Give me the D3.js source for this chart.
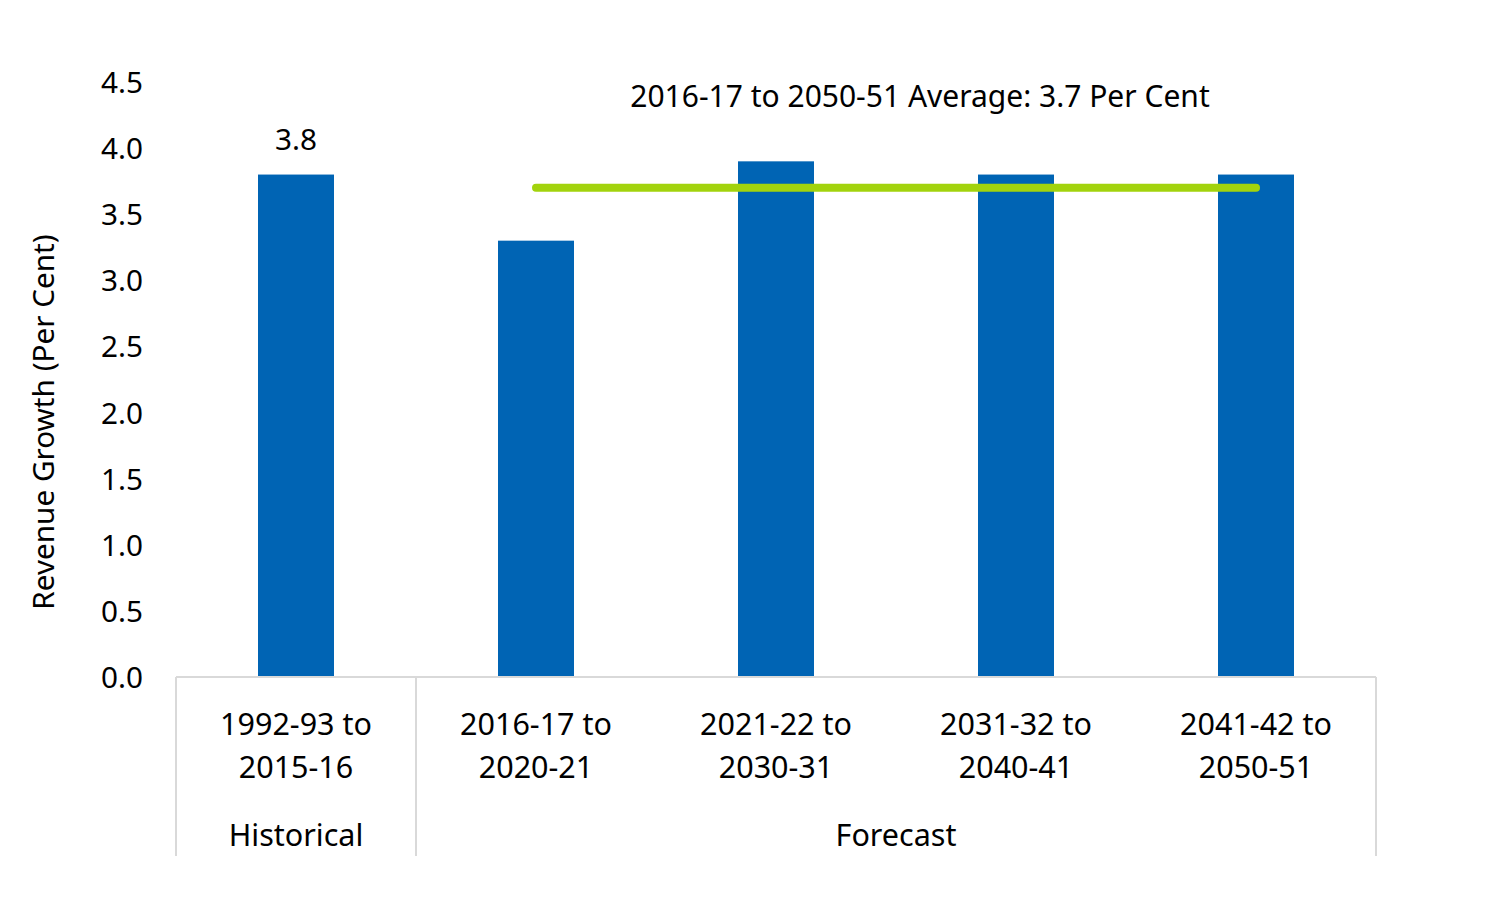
<!DOCTYPE html>
<html>
<head>
<meta charset="utf-8">
<script src="https://cdn.jsdelivr.net/npm/d3@7"></script>
<style>
  body { margin: 0; background: #fff; }
  svg { font-family: "Noto Sans", "Open Sans", sans-serif; }
</style>
</head>
<body>
<script>
var categories = [["1992-93 to", "2015-16"], ["2016-17 to", "2020-21"], ["2021-22 to", "2030-31"], ["2031-32 to", "2040-41"], ["2041-42 to", "2050-51"]];
var values = [3.8, 3.3, 3.9, 3.8, 3.8];
var groups = [{name: "Historical", from: 0, to: 0}, {name: "Forecast", from: 1, to: 4}];
var average = 3.7;
var yTicks = [0, 0.5, 1.0, 1.5, 2.0, 2.5, 3.0, 3.5, 4.0, 4.5];

var W = 1500, H = 921;
var svg = d3.select("body").append("svg").attr("width", W).attr("height", H);

var x = d3.scaleBand().domain(d3.range(categories.length)).range([176, 1376]).paddingInner(0).paddingOuter(0);
var y = d3.scaleLinear().domain([0, 4.5]).range([677, 82]);
var barW = 76;

// y tick labels
svg.selectAll(".ytick").data(yTicks).enter().append("text")
  .attr("x", 143).attr("y", function(d) { return y(d) + 11; })
  .attr("text-anchor", "end").attr("font-size", 29.7).attr("fill", "#000")
  .text(function(d) { return d.toFixed(1); });

svg.append("text")
  .attr("transform", "translate(54,422) rotate(-90)")
  .attr("text-anchor", "middle").attr("font-size", 29.7).text("Revenue Growth (Per Cent)");

// bars
svg.selectAll(".bar").data(values).enter().append("rect")
  .attr("x", function(d, i) { return x(i) + x.bandwidth() / 2 - barW / 2; })
  .attr("y", function(d) { return y(d); })
  .attr("width", barW)
  .attr("height", function(d) { return y(0) - y(d); })
  .attr("fill", "#0064b4");

// value label for historical
svg.append("text").attr("x", x(0) + x.bandwidth() / 2).attr("y", y(values[0]) - 25)
  .attr("text-anchor", "middle").attr("font-size", 29.7).text(values[0].toFixed(1));

// axis line and group separators
svg.append("line").attr("x1", 176).attr("x2", 1376).attr("y1", y(0)).attr("y2", y(0))
  .attr("stroke", "#d9d9d9").attr("stroke-width", 2);
var seps = [x(0), x(1), x(4) + x.bandwidth()];
svg.selectAll(".sep").data(seps).enter().append("line")
  .attr("x1", function(d) { return d; }).attr("x2", function(d) { return d; })
  .attr("y1", y(0)).attr("y2", 856).attr("stroke", "#d9d9d9").attr("stroke-width", 2);

// category labels
categories.forEach(function(c, i) {
  c.forEach(function(line, j) {
    svg.append("text").attr("x", x(i) + x.bandwidth() / 2).attr("y", 735 + j * 43)
      .attr("text-anchor", "middle").attr("font-size", 30.5).text(line);
  });
});
groups.forEach(function(g) {
  var cx = (x(g.from) + x(g.to) + x.bandwidth()) / 2;
  svg.append("text").attr("x", cx).attr("y", 846)
    .attr("text-anchor", "middle").attr("font-size", 30.5).text(g.name);
});

// average line
svg.append("line")
  .attr("x1", x(1) + x.bandwidth() / 2).attr("x2", x(4) + x.bandwidth() / 2)
  .attr("y1", y(average)).attr("y2", y(average))
  .attr("stroke", "#a2d30d").attr("stroke-width", 8).attr("stroke-linecap", "round");

svg.append("text").attr("x", 920).attr("y", 107).attr("text-anchor", "middle")
  .attr("font-size", 30).text("2016-17 to 2050-51 Average: 3.7 Per Cent");
</script>
</body>
</html>
